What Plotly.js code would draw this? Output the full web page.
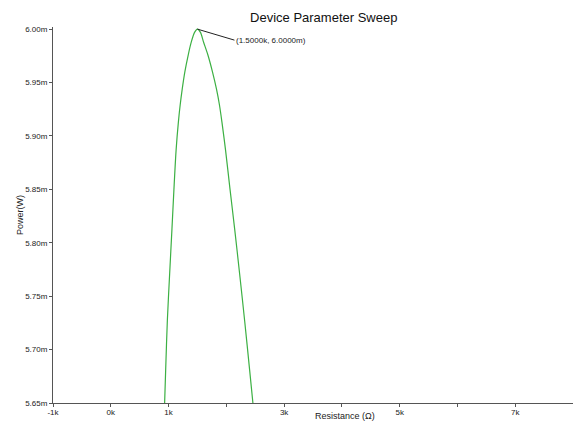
<!DOCTYPE html>
<html>
<head>
<meta charset="utf-8">
<script src="https://cdn.plot.ly/plotly-3.0.1.min.js"></script>
<style>html,body{margin:0;padding:0;background:#fff;}#chart{width:573px;height:424px;}</style>
</head>
<body>
<div id="chart"></div>
<script>
// Resistance (ohm) and power (W)
var resistance = [932, 950, 979, 1019, 1059, 1093, 1131, 1170, 1201, 1237, 1282, 1341, 1394, 1450, 1500, 1552, 1605, 1680, 1760, 1829, 1881, 1924, 1986, 2064, 2144, 2230, 2317, 2403, 2460];
var power = [0.005650, 0.005681, 0.005727, 0.005771, 0.005813, 0.005850, 0.005887, 0.005913, 0.005929, 0.005944, 0.005960, 0.005976, 0.005988, 0.005997, 0.006000, 0.005997, 0.005988, 0.005976, 0.005960, 0.005944, 0.005929, 0.005913, 0.005887, 0.005850, 0.005813, 0.005771, 0.005727, 0.005681, 0.005650];
var xTickVals = [-1000, 0, 1000, 2000, 3000, 4000, 5000, 6000, 7000];
var xTickText = ['-1k', '0k', '1k', '', '3k', '', '5k', '', '7k'];
var yTickVals = [0.00565, 0.00570, 0.00575, 0.00580, 0.00585, 0.00590, 0.00595, 0.00600];
var yTickText = ['5.65m', '5.70m', '5.75m', '5.80m', '5.85m', '5.90m', '5.95m', '6.00m'];
var peakX = 1500, peakY = 0.006000, peakLabel = '(1.5000k, 6.0000m)';
var xTitle = 'Resistance (Ω)';

var trace = {
  x: resistance, y: power, type: 'scatter', mode: 'lines',
  line: {color: '#3cb043', width: 1.2, shape: 'spline', smoothing: 0.8},
  hoverinfo: 'none', cliponaxis: true
};
var layout = {
  width: 573, height: 424,
  margin: {l: 53, r: 0, t: 27, b: 21},
  paper_bgcolor: '#fff', plot_bgcolor: '#fff',
  font: {family: 'Liberation Sans, Arial, sans-serif', color: '#222'},
  title: {text: 'Device Parameter Sweep', x: 0.565, xanchor: 'center', y: 0.96, yanchor: 'middle', yref: 'container',
          font: {size: 13, color: '#111'}},
  showlegend: false,
  xaxis: {
    range: [-1000, 8000], tickvals: xTickVals, ticktext: xTickText,
    showgrid: false, zeroline: false, showline: true, linecolor: '#555', linewidth: 1,
    ticks: 'outside', ticklen: 3, tickcolor: '#555', tickfont: {size: 8, color: '#222'},
    ticklabelstandoff: -2,
    automargin: false
  },
  yaxis: {
    range: [0.00565, 0.006002], tickvals: yTickVals, ticktext: yTickText,
    showgrid: false, zeroline: false, showline: true, linecolor: '#555', linewidth: 1,
    ticks: 'outside', ticklen: 3, tickcolor: '#555', tickfont: {size: 8, color: '#222'},
    title: {text: 'Power(W)', font: {size: 9, color: '#222'}, standoff: 0},
    automargin: false
  },
  annotations: [{
    x: peakX, y: peakY, xref: 'x', yref: 'y', text: peakLabel,
    showarrow: true, arrowhead: 0, arrowwidth: 1, arrowcolor: '#222',
    ax: 37, ay: 11, xanchor: 'left', yanchor: 'middle',
    font: {size: 8, color: '#222'}
  }, {
    x: 0.5615, y: -0.0545, xref: 'paper', yref: 'paper', text: xTitle,
    showarrow: false, xanchor: 'center', yanchor: 'bottom',
    font: {size: 9, color: '#222'}
  }]
};
Plotly.newPlot('chart', [trace], layout, {staticPlot: true, displayModeBar: false});
</script>
</body>
</html>
